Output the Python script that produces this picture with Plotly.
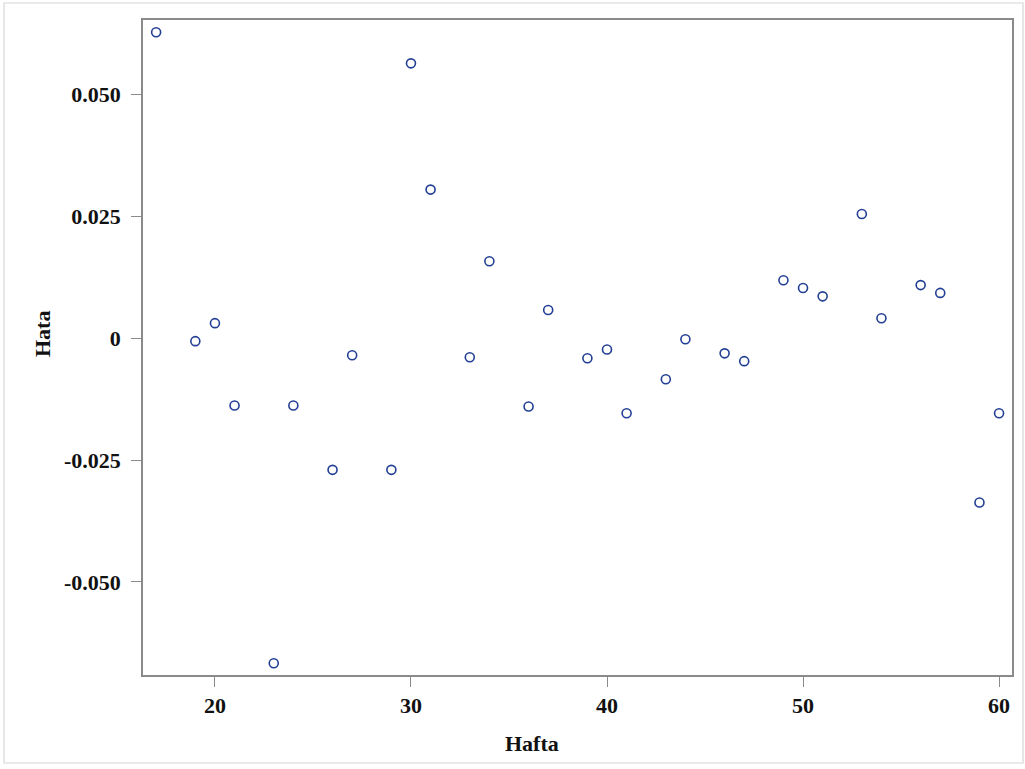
import plotly.graph_objects as go

# Data
hafta = [17, 19, 20, 21, 23, 24, 26, 27, 29, 30, 31, 33, 34, 36, 37, 39, 40,
         41, 43, 44, 46, 47, 49, 50, 51, 53, 54, 56, 57, 59, 60]
hata = [0.0628, -0.0006, 0.0031, -0.0138, -0.0667, -0.0138, -0.0270, -0.0035,
        -0.0270, 0.0564, 0.0305, -0.0039, 0.0158, -0.0140, 0.0058, -0.0041,
        -0.0023, -0.0154, -0.0084, -0.0002, -0.0031, -0.0047, 0.0119, 0.0103,
        0.0086, 0.0255, 0.0041, 0.0109, 0.0093, -0.0337, -0.0154]

x_ticks = [20, 30, 40, 50, 60]
x_ticktext = ["20", "30", "40", "50", "60"]
y_ticks = [0.05, 0.025, 0, -0.025, -0.05]
y_ticktext = ["0.050", "0.025", "0", "-0.025", "-0.050"]

FONT = "Liberation Serif"
W, H = 1025, 769
L, R, T, B = 143, 13, 20, 94
pw, ph = W - L - R, H - T - B

fig = go.Figure()
fig.add_trace(go.Scatter(
    x=hafta, y=hata, mode="markers",
    marker=dict(symbol="circle-open", size=9, color="#223f94",
                line=dict(width=1.6, color="#223f94")),
    hoverinfo="skip", showlegend=False,
))

axis_common = dict(
    showgrid=False, zeroline=False, showline=True, linecolor="#8a8a8a",
    linewidth=1.5, mirror=True, ticks="outside", ticklen=10, tickwidth=1,
    tickcolor="#8a8a8a",
    tickfont=dict(family=FONT, size=22, color="#111111"),
)

fig.update_layout(
    width=W, height=H,
    margin=dict(l=L, r=R, t=T, b=B),
    paper_bgcolor="white", plot_bgcolor="white",
    xaxis=dict(range=[16.33, 60.66], tickvals=x_ticks,
               ticktext=["<b>%s</b>" % t for t in x_ticktext],
               **axis_common),
    yaxis=dict(range=[-0.0691, 0.0653], tickvals=y_ticks,
               ticktext=["<b>%s</b>" % t for t in y_ticktext],
               ticklabelstandoff=6,
               **axis_common),
    annotations=[
        dict(text="<b>Hafta</b>", xref="paper", yref="paper",
             x=(532 - L) / pw, y=(H - B - 744) / ph, showarrow=False,
             xanchor="center", yanchor="middle",
             font=dict(family=FONT, size=22, color="#111111")),
        dict(text="<b>Hata</b>", xref="paper", yref="paper",
             x=(43 - L) / pw, y=(H - B - 334) / ph, showarrow=False,
             xanchor="center", yanchor="middle", textangle=-90,
             font=dict(family=FONT, size=22, color="#111111")),
    ],
    shapes=[
        dict(type="rect", xref="paper", yref="paper",
             x0=(4 - L) / pw, x1=(1023 - L) / pw,
             y0=(H - B - 763) / ph, y1=(H - B - 3) / ph,
             line=dict(color="#d6d6d6", width=1.2), layer="below"),
    ],
)

fig.write_html("out.html")
